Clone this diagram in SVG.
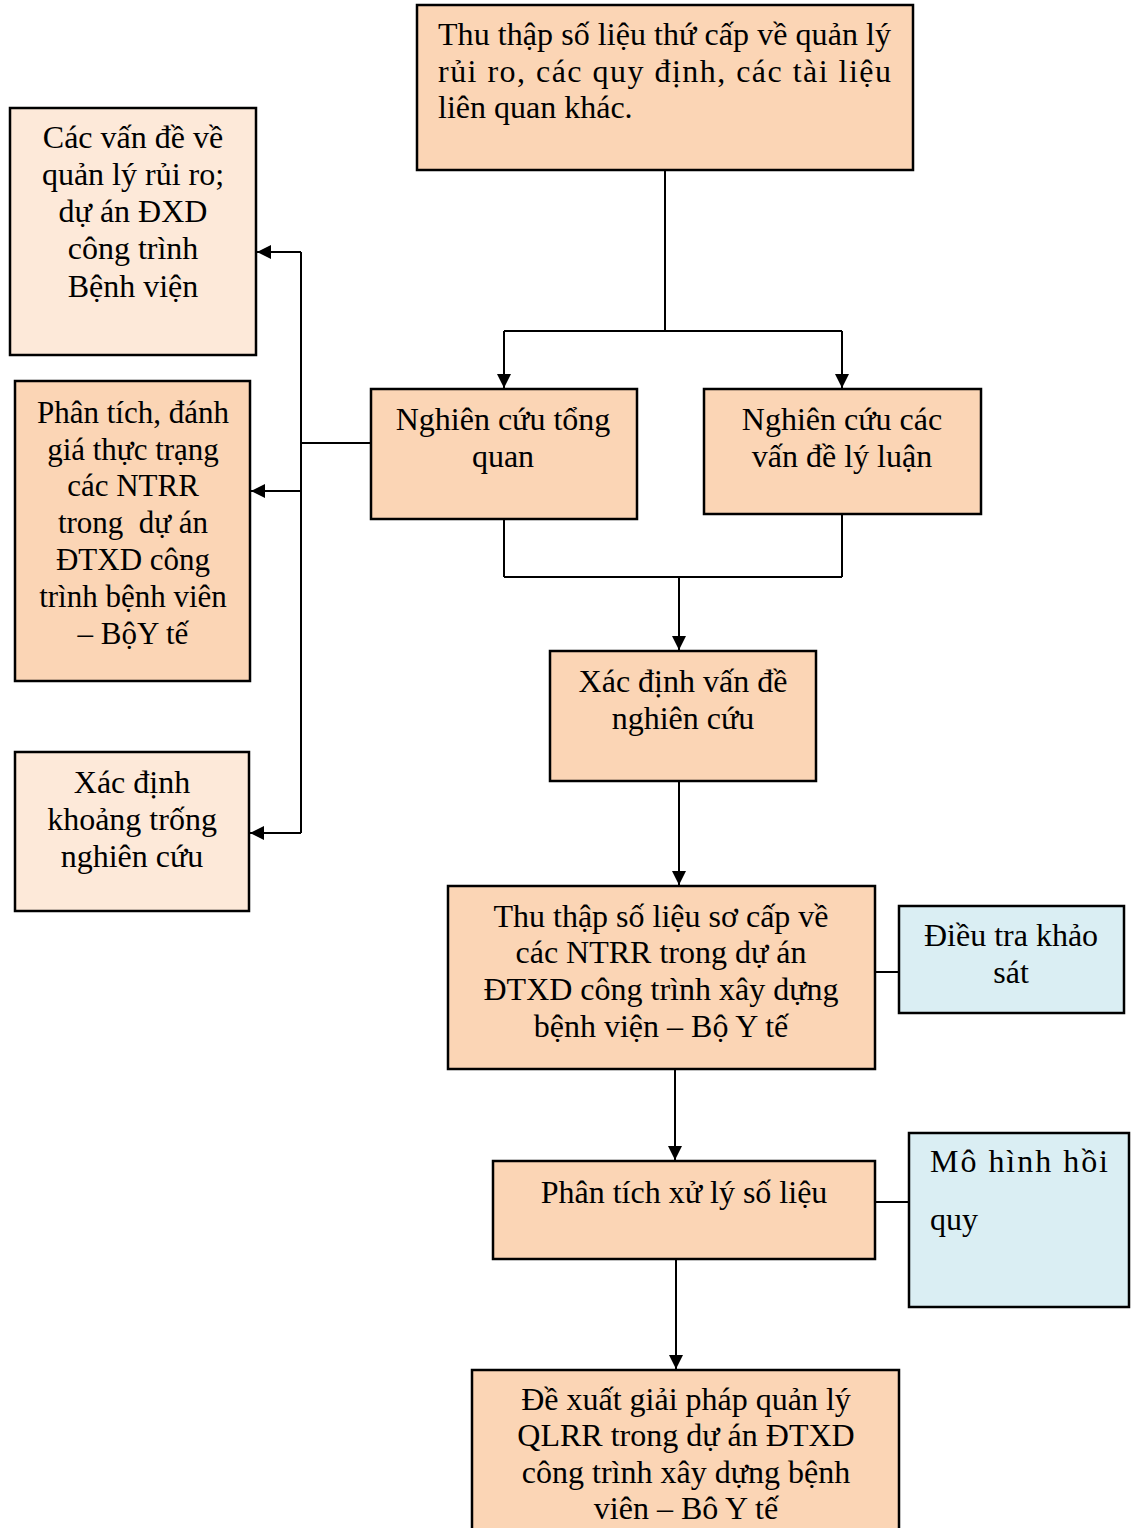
<svg xmlns="http://www.w3.org/2000/svg" width="1136" height="1528" viewBox="0 0 1136 1528">
  <defs>
    <marker id="arrow" viewBox="0 0 10 10" refX="10" refY="5" markerWidth="14" markerHeight="14" markerUnits="userSpaceOnUse" orient="auto">
      <path d="M0,0 L10,5 L0,10 z" fill="#000"/>
    </marker>
    <style>
      .box { stroke: #000; stroke-width: 2.5; }
      .peach { fill: #FBD5B5; }
      .light { fill: #FDE9D9; }
      .blue { fill: #DAEEF3; }
      .c { text-anchor: middle; }
      .line { stroke: #000; stroke-width: 2; fill: none; }
      .arr { marker-end: url(#arrow); }
    </style>
  </defs>
  <rect width="1136" height="1528" fill="#fff"/>

  <!-- connectors -->
  <g id="connectors">
    <line class="line" x1="665" y1="170" x2="665" y2="331"/>
    <line class="line" x1="504" y1="331" x2="842" y2="331"/>
    <line class="line arr" x1="504" y1="331" x2="504" y2="388"/>
    <line class="line arr" x1="842" y1="331" x2="842" y2="388"/>
    <line class="line" x1="504" y1="516" x2="504" y2="577"/>
    <line class="line" x1="842" y1="514" x2="842" y2="577"/>
    <line class="line" x1="504" y1="577" x2="842" y2="577"/>
    <line class="line arr" x1="679" y1="577" x2="679" y2="650"/>
    <line class="line arr" x1="679" y1="781" x2="679" y2="885"/>
    <line class="line arr" x1="675" y1="1069" x2="675" y2="1160"/>
    <line class="line arr" x1="676" y1="1259" x2="676" y2="1369"/>
    <line class="line" x1="875" y1="972" x2="899" y2="972"/>
    <line class="line" x1="875" y1="1202" x2="910" y2="1202"/>
    <line class="line" x1="371" y1="443" x2="301" y2="443"/>
    <line class="line" x1="301" y1="252" x2="301" y2="833"/>
    <line class="line arr" x1="301" y1="252" x2="257" y2="252"/>
    <line class="line arr" x1="301" y1="491" x2="251" y2="491"/>
    <line class="line arr" x1="301" y1="833" x2="250" y2="833"/>
  </g>

  <g font-family="'Liberation Serif', 'Times New Roman', serif" font-size="32" fill="#000">
  <g id="thu-thap-thu-cap">
    <rect class="box peach" x="417" y="5" width="496" height="165"/>
    <text x="438" y="45" textLength="453" lengthAdjust="spacing">Thu thập số liệu thứ cấp về quản lý</text>
    <text x="438" y="82" textLength="453" lengthAdjust="spacing">rủi ro, các quy định, các tài liệu</text>
    <text x="438" y="118">liên quan khác.</text>
  </g>

  <g id="van-de-qlrr">
    <rect class="box light" x="10" y="108" width="246" height="247"/>
    <text class="c" x="133" y="148">Các vấn đề về</text>
    <text class="c" x="133" y="185">quản lý rủi ro;</text>
    <text class="c" x="133" y="222">dự án ĐXD</text>
    <text class="c" x="133" y="259">công trình</text>
    <text class="c" x="133" y="297">Bệnh viện</text>
  </g>

  <g id="phan-tich-thuc-trang" font-size="31">
    <rect class="box peach" x="15" y="381" width="235" height="300"/>
    <text class="c" x="133" y="423">Phân tích, đánh</text>
    <text class="c" x="133" y="460">giá thực trạng</text>
    <text class="c" x="133" y="496">các NTRR</text>
    <text class="c" x="133" y="533" xml:space="preserve">trong  dự án</text>
    <text class="c" x="133" y="570">ĐTXD công</text>
    <text class="c" x="133" y="607">trình bệnh viên</text>
    <text class="c" x="133" y="644">– BộY tế</text>
  </g>

  <g id="khoang-trong">
    <rect class="box light" x="15" y="752" width="234" height="159"/>
    <text class="c" x="132" y="793">Xác định</text>
    <text class="c" x="132" y="830">khoảng trống</text>
    <text class="c" x="132" y="867">nghiên cứu</text>
  </g>

  <g id="tong-quan">
    <rect class="box peach" x="371" y="389" width="266" height="130"/>
    <text class="c" x="503" y="430">Nghiên cứu tổng</text>
    <text class="c" x="503" y="467">quan</text>
  </g>

  <g id="ly-luan">
    <rect class="box peach" x="704" y="389" width="277" height="125"/>
    <text class="c" x="842" y="430">Nghiên cứu các</text>
    <text class="c" x="842" y="467">vấn đề lý luận</text>
  </g>

  <g id="xac-dinh-van-de">
    <rect class="box peach" x="550" y="651" width="266" height="130"/>
    <text class="c" x="683" y="692">Xác định vấn đề</text>
    <text class="c" x="683" y="729">nghiên cứu</text>
  </g>

  <g id="thu-thap-so-cap">
    <rect class="box peach" x="448" y="886" width="427" height="183"/>
    <text class="c" x="661" y="927">Thu thập số liệu sơ cấp về</text>
    <text class="c" x="661" y="963">các NTRR trong dự án</text>
    <text class="c" x="661" y="1000">ĐTXD công trình xây dựng</text>
    <text class="c" x="661" y="1037">bệnh viện – Bộ Y tế</text>
  </g>

  <g id="dieu-tra">
    <rect class="box blue" x="899" y="906" width="225" height="107"/>
    <text class="c" x="1011" y="946">Điều tra khảo</text>
    <text class="c" x="1011" y="983">sát</text>
  </g>

  <g id="phan-tich-xu-ly">
    <rect class="box peach" x="493" y="1161" width="382" height="98"/>
    <text class="c" x="684" y="1203">Phân tích xử lý số liệu</text>
  </g>

  <g id="mo-hinh">
    <rect class="box blue" x="909" y="1133" width="220" height="174"/>
    <text x="930" y="1172" textLength="178" lengthAdjust="spacing">Mô hình hồi</text>
    <text x="930" y="1230">quy</text>
  </g>

  <g id="de-xuat">
    <rect class="box peach" x="472" y="1370" width="427" height="170"/>
    <text class="c" x="686" y="1410">Đề xuất giải pháp quản lý</text>
    <text class="c" x="686" y="1446">QLRR trong dự án ĐTXD</text>
    <text class="c" x="686" y="1483">công trình xây dựng bệnh</text>
    <text class="c" x="686" y="1519">viên – Bô Y tế</text>
  </g>
  </g>
</svg>
